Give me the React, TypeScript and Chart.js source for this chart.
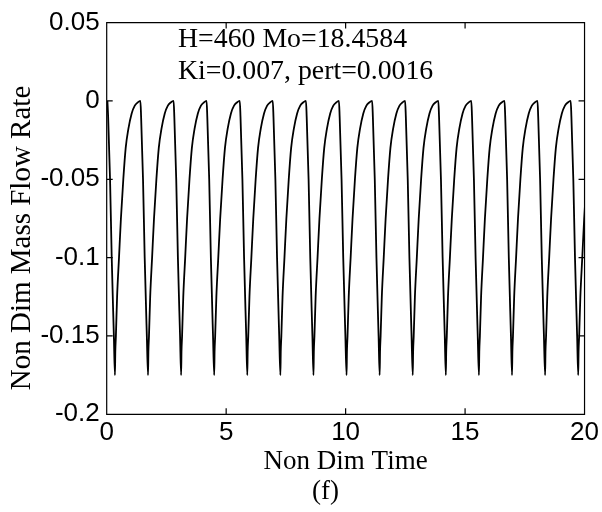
import React, { useEffect, useRef } from "react";
import { Chart, registerables } from "chart.js";

Chart.register(...registerables);

// Times (non-dimensional) of each local maximum (value ~0)
const peakTimes = [0.03, 1.41, 2.8, 4.18, 5.57, 6.95, 8.34, 9.72, 11.11, 12.49, 13.88, 15.26, 16.65, 18.03, 19.42];
// Times of each local minimum
const troughTimes = [0.345, 1.73, 3.115, 4.5, 5.885, 7.27, 8.655, 10.04, 11.425, 12.81, 14.195, 15.58, 16.965, 18.35, 19.735];
const peakValue = 0;
const troughValue = -0.175;
// Shape of the falling branch after a peak (time after peak, value)
const fallOffsets = [0.03, 0.11, 0.18, 0.27];
const fallValues = [-0.01, -0.05, -0.1, -0.15];
// Shape of the rising branch after a trough (time after trough, value)
const riseOffsets = [0.015, 0.04, 0.09, 0.17, 0.25, 0.35, 0.45, 0.56, 0.7, 0.83, 0.95];
const riseValues = [-0.16, -0.15, -0.125, -0.1, -0.075, -0.05, -0.03, -0.018, -0.008, -0.003, -0.001];

const xTicks = [0, 5, 10, 15, 20];
const yTicks = [-0.2, -0.15, -0.1, -0.05, 0, 0.05];

const xTitle = "Non Dim Time";
const yTitle = "Non Dim Mass Flow Rate";
const noteLines = ["H=460 Mo=18.4584", "Ki=0.007, pert=0.0016"];
const caption = "(f)";

function buildPoints() {
  const pts: { x: number; y: number }[] = [];
  for (let i = 0; i < peakTimes.length; i++) {
    pts.push({ x: peakTimes[i], y: peakValue });
    for (let j = 0; j < fallOffsets.length; j++) pts.push({ x: peakTimes[i] + fallOffsets[j], y: fallValues[j] });
    pts.push({ x: troughTimes[i], y: troughValue });
    for (let j = 0; j < riseOffsets.length; j++) pts.push({ x: troughTimes[i] + riseOffsets[j], y: riseValues[j] });
  }
  return pts;
}

const boxPlugin = {
  id: "matlabBox",
  afterDatasetsDraw(chart: any) {
    const { ctx, chartArea } = chart;
    const xs = chart.scales.x;
    const ys = chart.scales.y;
    const { left, right, top, bottom } = chartArea;
    const tl = 6;
    ctx.save();
    ctx.strokeStyle = "#000";
    ctx.lineWidth = 1.2;
    ctx.beginPath();
    ctx.rect(left, top, right - left, bottom - top);
    for (const v of xTicks) {
      const px = xs.getPixelForValue(v);
      ctx.moveTo(px, bottom);
      ctx.lineTo(px, bottom - tl);
      ctx.moveTo(px, top);
      ctx.lineTo(px, top + tl);
    }
    for (const v of yTicks) {
      const py = ys.getPixelForValue(v);
      ctx.moveTo(left, py);
      ctx.lineTo(left + tl, py);
      ctx.moveTo(right, py);
      ctx.lineTo(right - tl, py);
    }
    ctx.stroke();

    ctx.fillStyle = "#000";
    ctx.font = "27.8px 'Liberation Serif', 'Times New Roman', serif";
    ctx.textAlign = "left";
    ctx.textBaseline = "alphabetic";
    ctx.fillText(noteLines[0], 178, 46.5);
    ctx.fillText(noteLines[1], 178, 78.5);
    ctx.font = "27px 'Liberation Serif', 'Times New Roman', serif";
    ctx.fillText(caption, 312, 499);

    ctx.translate(22, 238);
    ctx.rotate(-Math.PI / 2);
    ctx.font = "29px 'Liberation Serif', 'Times New Roman', serif";
    ctx.textAlign = "center";
    ctx.textBaseline = "middle";
    ctx.fillText(yTitle, 0, 0);
    ctx.restore();
  },
};

export default function App() {
  const ref = useRef<HTMLCanvasElement | null>(null);
  useEffect(() => {
    if (!ref.current) return;
    const tickFont = { family: "'Liberation Sans', Arial, sans-serif", size: 26 };
    const chart = new Chart(ref.current, {
      type: "line",
      data: {
        datasets: [
          {
            data: buildPoints(),
            borderColor: "#000",
            borderWidth: 1.8,
            pointRadius: 0,
            cubicInterpolationMode: "monotone",
            fill: false,
            clip: 0,
          } as any,
        ],
      },
      options: {
        animation: false,
        responsive: false,
        devicePixelRatio: 1,
        parsing: false,
        layout: { padding: { left: 0, top: 16, right: 14, bottom: 0 } },
        plugins: { legend: { display: false }, tooltip: { enabled: false } },
        scales: {
          x: {
            type: "linear",
            min: 0,
            max: 20,
            grid: { display: false, drawTicks: false },
            border: { display: false },
            afterBuildTicks: (s: any) => {
              s.ticks = xTicks.map((v) => ({ value: v }));
            },
            afterFit: (s: any) => {
              s.height = 97.7;
            },
            ticks: {
              color: "#000",
              font: tickFont,
              padding: 3,
              maxRotation: 0,
              autoSkip: false,
              callback: (v: any) => String(v),
            },
            title: {
              display: true,
              text: xTitle,
              color: "#000",
              font: { family: "'Liberation Serif', 'Times New Roman', serif", size: 27 },
              padding: { top: 0, bottom: 34 },
            },
          },
          y: {
            type: "linear",
            min: -0.2,
            max: 0.05,
            grid: { display: false, drawTicks: false },
            border: { display: false },
            afterBuildTicks: (s: any) => {
              s.ticks = yTicks.map((v) => ({ value: v }));
            },
            afterFit: (s: any) => {
              s.width = 106.7;
            },
            ticks: {
              color: "#000",
              font: tickFont,
              padding: 7,
              autoSkip: false,
              callback: (v: any) => String(Number(Number(v).toFixed(2))),
            },
          },
        },
      },
      plugins: [boxPlugin],
    });
    return () => chart.destroy();
  }, []);
  return (
    <div style={{ position: "absolute", left: 0, top: 0, width: 602, height: 512, background: "#fff" }}>
      <canvas ref={ref} width={602} height={512} style={{ display: "block" }} />
    </div>
  );
}
